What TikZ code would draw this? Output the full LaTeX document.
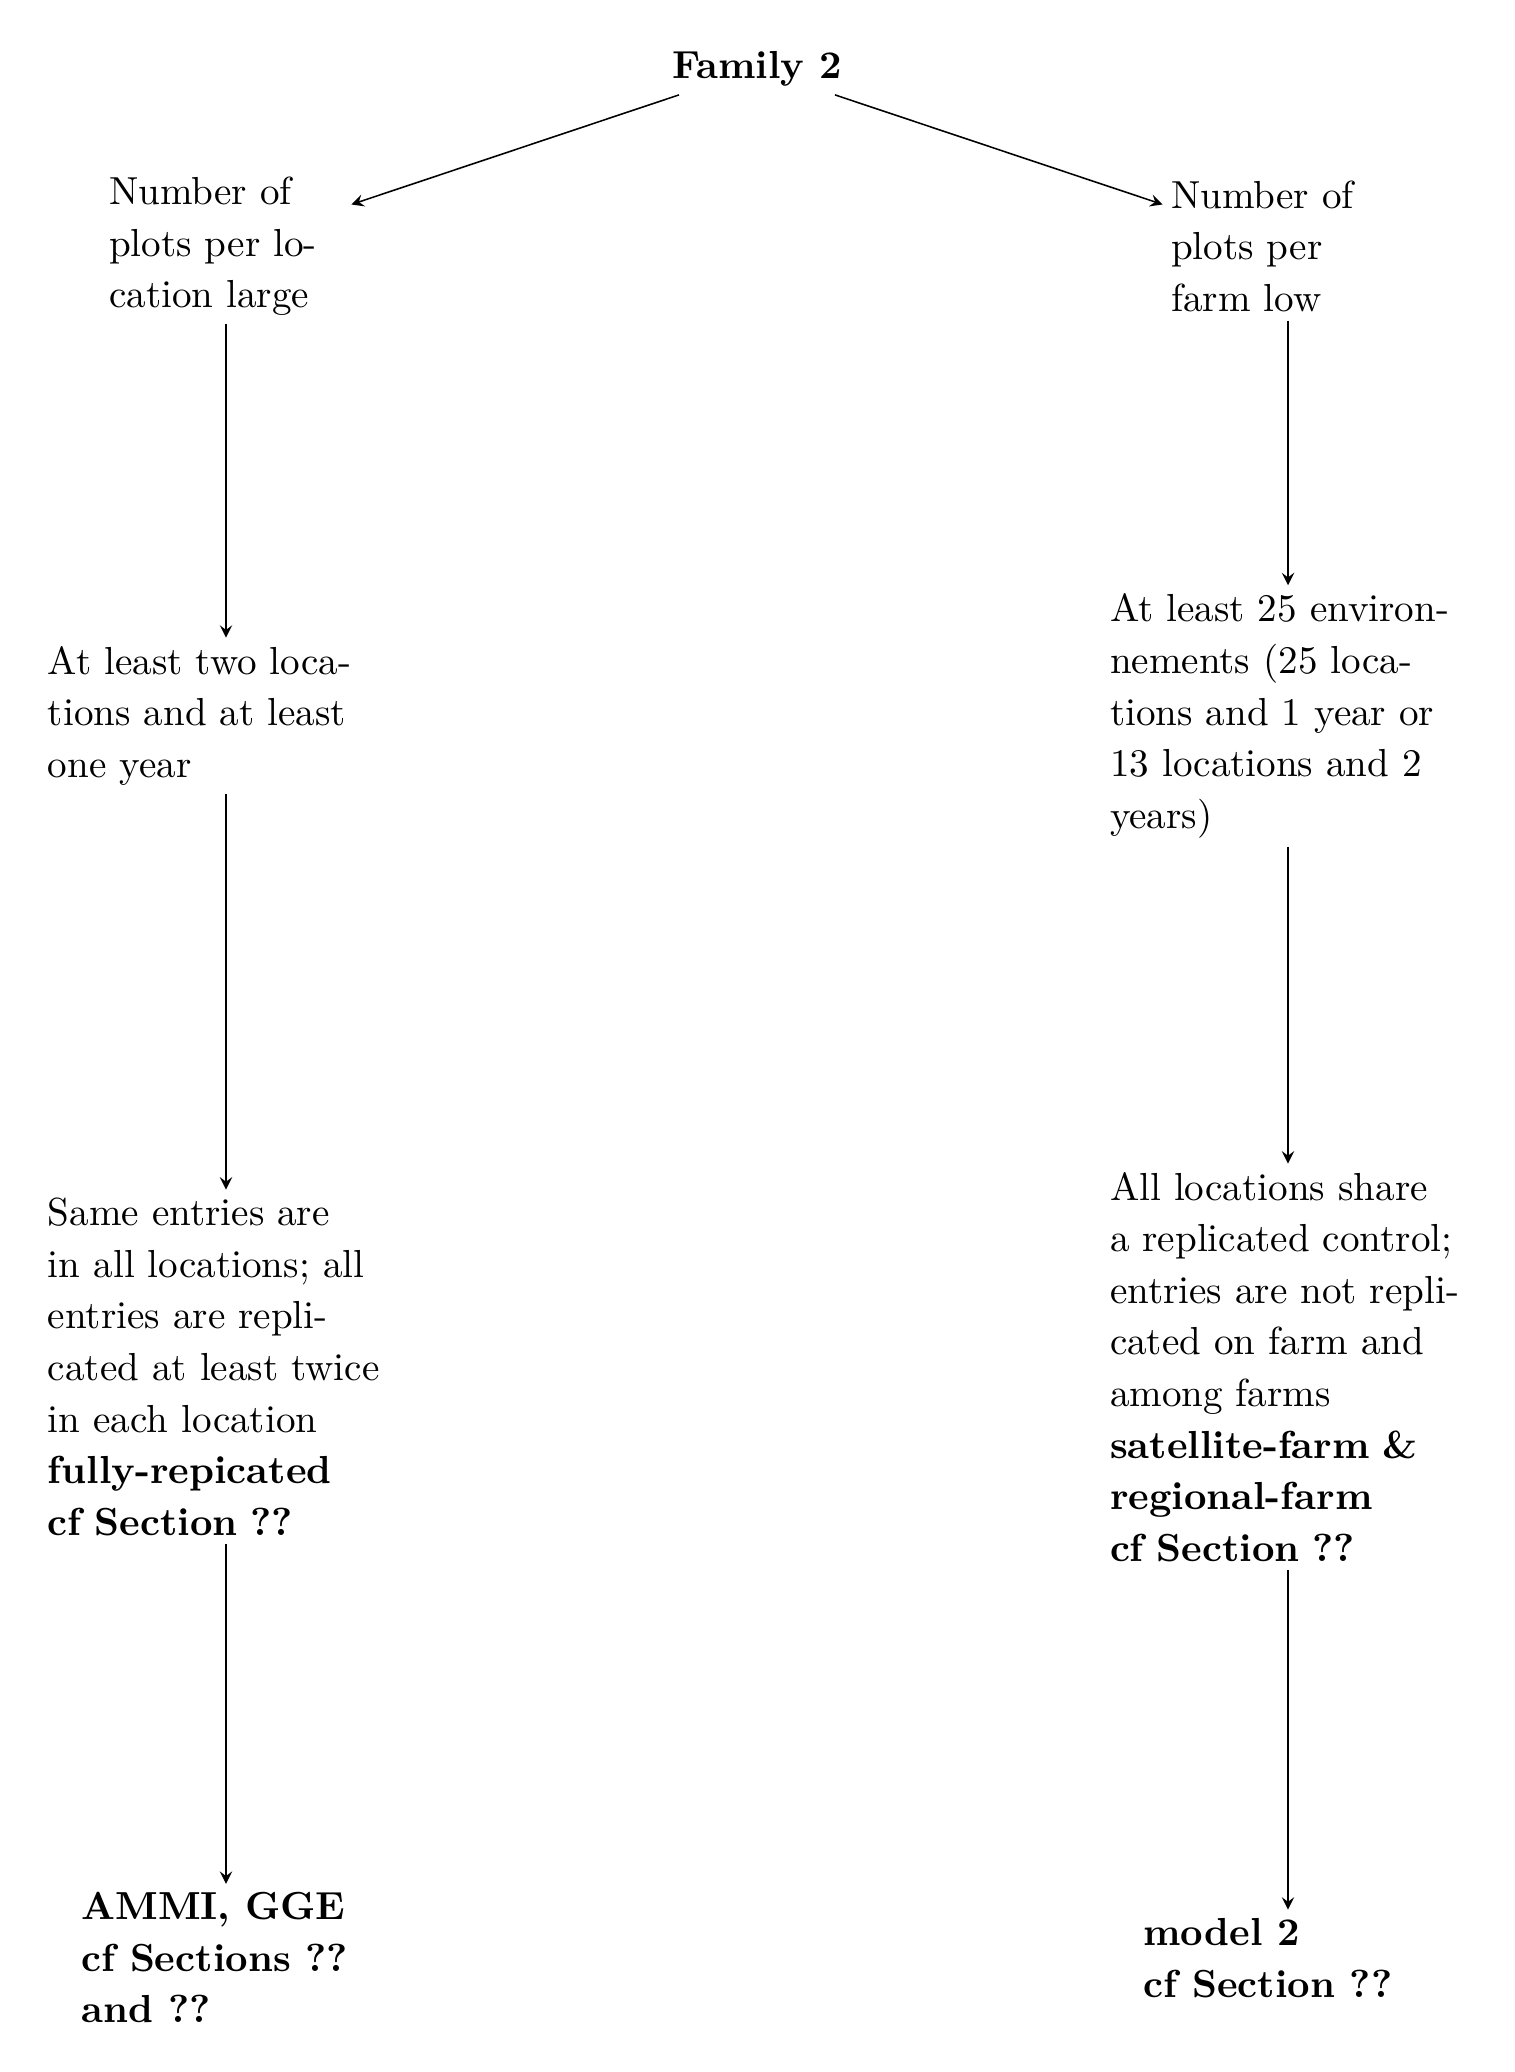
\documentclass[tikz,border=0pt]{standalone}
\usetikzlibrary{trees}
\linespread{1.1}
\tikzset{
every node/.style={inner sep=2pt},
style0/.style= {font=\bfseries},
style1/.style= {text width=2.1cm,align=left},
style2/.style= {text width=3.2cm,align=left},
style3/.style= {text width=2.6cm,align=flush left,font=\bfseries}
}
\begin{document}
\begin{tikzpicture}[level 1/.style={sibling distance=271.6pt,level distance=45.4pt},
  level 2/.style={level distance=120.1pt},
  level 3/.style={level distance=166.5pt},
  level 4/.style={level distance=151.1pt},
  edge from parent/.style={->,draw},>=stealth]

\useasboundingbox (-193.6pt,17.6pt) rectangle (193.6pt,-512.3pt);

% the tree: one branch per kind of trial
\node[style0] (f2) {Family 2}
child {node[style1] (c1) {Number of plots per location large}
  child {node[style2] (c11) {At least two locations and at least one year}
    child {node[style2] (c12) {Same entries are in all locations; all entries are replicated at least twice in each location\\
      \textbf{fully-repicated\\cf Section ??}}
      child {node[style3] (c13) {AMMI, GGE\\cf Sections ??\\and ??}}}}}
child {node[style1] (c2) {Number of plots per farm low}
  child {node[style2] (c21) {At least 25 environnements (25 locations and 1 year or 13 locations and 2 years)}
    child {node[style2] (c22) {All locations share a replicated control; entries are not replicated on farm and among farms\\
      \textbf{satellite-farm \&\\regional-farm\\cf Section ??}}
      child {node[style3] (c23) {model 2\\cf Section ??}}}}};

\end{tikzpicture}
\end{document}
